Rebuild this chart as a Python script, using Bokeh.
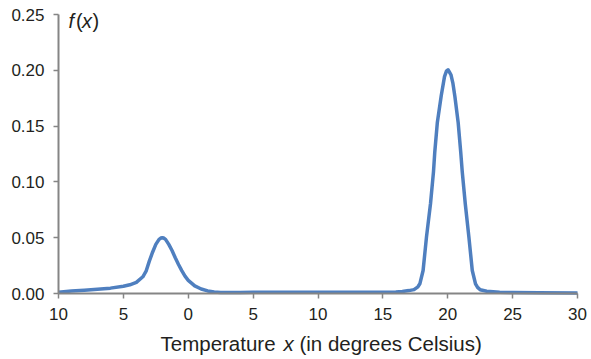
from bokeh.plotting import figure
from bokeh.models import FixedTicker, NumeralTickFormatter, Range1d
from bokeh.core.properties import value
from bokeh.embed import file_html
from bokeh.resources import INLINE

# Temperature (degrees Celsius) and density f(x)
temps = [-10, -9, -8, -7, -6, -5, -4.5, -4, -3.5, -3.25, -3, -2.75, -2.5, -2.25, -2.1,
         -2, -1.9, -1.75, -1.5, -1.25, -1, -0.75, -0.5, -0.25, 0, 0.5, 1, 1.5, 2,
         2.5, 3, 4, 5, 6, 8, 10, 12, 14, 15, 16, 16.5, 17, 17.4, 17.7, 17.85, 18.1,
         18.36, 18.67, 18.9, 19.0, 19.2, 19.5, 19.75, 19.9, 20.02, 20.1, 20.25, 20.4,
         20.55, 20.8, 21.0, 21.12, 21.35, 21.63, 21.89, 22.14, 22.3, 22.5, 23, 24, 25,
         27, 30]
density = [0.0012, 0.0022, 0.0030, 0.0038, 0.0048, 0.0065, 0.0078, 0.0100, 0.0150,
           0.0200, 0.0290, 0.0370, 0.0440, 0.0485, 0.0497, 0.0500, 0.0497, 0.0485,
           0.0440, 0.0385, 0.0320, 0.0260, 0.0205, 0.0155, 0.0118, 0.0068, 0.0040,
           0.0023, 0.0014, 0.0010, 0.0009, 0.0010, 0.0011, 0.0012, 0.0012, 0.0012,
           0.0012, 0.0012, 0.0011, 0.0013, 0.0018, 0.0026, 0.0035, 0.0060, 0.0087,
           0.0206, 0.0505, 0.0804, 0.1090, 0.1266, 0.1535, 0.1774, 0.1943, 0.1993,
           0.2005, 0.1990, 0.1960, 0.1882, 0.1765, 0.1535, 0.1266, 0.1087, 0.0804,
           0.0505, 0.0206, 0.0087, 0.0055, 0.0033, 0.0020, 0.0012, 0.0009, 0.0007,
           0.0005]

x_ticks = [-10, -5, 0, 5, 10, 15, 20, 25, 30]
x_tick_labels = ["10", "5", "0", "5", "10", "15", "20", "25", "30"]
y_ticks = [0.0, 0.05, 0.10, 0.15, 0.20, 0.25]

FONT = "Liberation Sans"
TXT = "#231f20"
AX = "#858585"

W, H = 591, 359
# plot area in canvas pixels: x -10 -> 58, 30 -> 577 ; y 0 -> 293, 0.25 -> 14
L, R, T, B = 58, 577, 14, 293
xs = (R - L) / 40.0
ys = (B - T) / 0.25
def px2x(px):
    return -10 + (px - L) / xs
def py2y(py):
    return (B - py) / ys

# the frame covers the whole canvas; axes are fixed inside it so nothing is clipped
p = figure(width=W, height=H, output_backend="svg", toolbar_location=None,
           x_range=Range1d(px2x(0), px2x(W)), y_range=Range1d(py2y(H), py2y(0)),
           min_border=0)
p.outline_line_color = None
p.xgrid.visible = False
p.ygrid.visible = False

p.line(temps, density, line_color="#4f7fbf", line_width=3.5, line_join="round")

for ax in (p.xaxis[0], p.yaxis[0]):
    ax.axis_line_color = AX
    ax.axis_line_width = 2
    ax.major_tick_line_color = AX
    ax.major_tick_line_width = 1.5
    ax.major_tick_in = 0
    ax.major_tick_out = 5
    ax.minor_tick_line_color = None
    ax.major_label_text_font = FONT
    ax.major_label_text_font_size = "17px"
    ax.major_label_text_color = TXT

p.xaxis[0].ticker = FixedTicker(ticks=x_ticks)
p.xaxis[0].major_label_overrides = {t: s for t, s in zip(x_ticks, x_tick_labels)}
p.xaxis[0].major_label_standoff = 9
p.xaxis[0].fixed_location = 0
p.xaxis[0].bounds = (-10, 30)
p.yaxis[0].ticker = FixedTicker(ticks=y_ticks)
p.yaxis[0].formatter = NumeralTickFormatter(format="0.00")
p.yaxis[0].major_label_standoff = 9
p.yaxis[0].fixed_location = -10
p.yaxis[0].bounds = (0, 0.25)

def put(txt, style, px, py, size):
    p.text(x=[px2x(px)], y=[py2y(py)], text=[txt], text_font=value(FONT),
           text_font_style=style, text_font_size=size, text_color=TXT,
           text_baseline="alphabetic", text_align="left")

# f(x) label
for txt, style, px in [("f", "italic", 68), ("(", "normal", 75.5),
                       ("x", "italic", 81.5), (")", "normal", 92)]:
    put(txt, style, px, 20, "20px")

# x-axis title with italic x
fs = 20.5
for txt, style, px in [("Temperature", "normal", 160), ("x", "italic", 160 + 6.002 * fs),
                       ("(in degrees Celsius)", "normal", 160 + 6.78 * fs)]:
    put(txt, style, px, 343, f"{fs}px")

open("out.html", "w").write(file_html(p, INLINE))
